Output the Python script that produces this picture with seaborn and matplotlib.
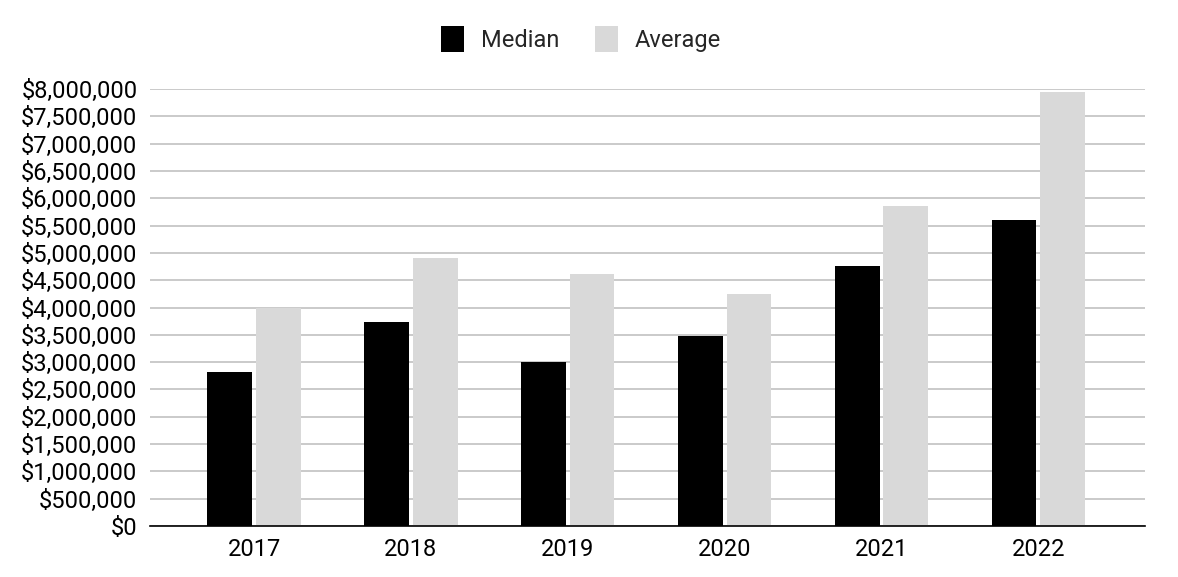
import matplotlib
matplotlib.use("Agg")
import matplotlib.pyplot as plt
import seaborn as sns
import pandas as pd
from matplotlib.ticker import FuncFormatter, MultipleLocator
from matplotlib.patches import Patch

years = ["2017", "2018", "2019", "2020", "2021", "2022"]
median = [2820000, 3740000, 3000000, 3480000, 4760000, 5600000]
average = [3990000, 4910000, 4620000, 4250000, 5860000, 7950000]
series = ["Median", "Average"]
colors = {"Median": "#000000", "Average": "#d9d9d9"}

df = pd.DataFrame({
    "Year": years * 2,
    "Value": median + average,
    "Series": ["Median"] * len(years) + ["Average"] * len(years),
})

sns.set_theme(style="white")
plt.rcParams["font.family"] = ["Roboto", "DejaVu Sans"]

fig = plt.figure(figsize=(11.78, 5.77), dpi=100)
ax = fig.add_axes([150/1178, 51/577, 995/1178, 437/577])

sns.barplot(data=df, x="Year", y="Value", hue="Series", hue_order=series,
            palette=colors, width=0.62, gap=0.08, ax=ax, legend=False,
            saturation=1, linewidth=0)

ax.set_ylim(0, 8000000)
ax.set_xlim(-0.663, 5.68)
ax.yaxis.set_major_locator(MultipleLocator(500000))
ax.yaxis.set_major_formatter(FuncFormatter(lambda v, p: f"${int(v):,}"))
ax.grid(axis="y", color="#c6c6c6", linewidth=1.3)
ax.set_axisbelow(True)
for s in ["top", "right", "left"]:
    ax.spines[s].set_visible(False)
ax.spines["bottom"].set_color("#000000")
ax.spines["bottom"].set_linewidth(1.2)
ax.tick_params(axis="both", length=0, labelsize=17, colors="#000000")
ax.tick_params(axis="y", pad=9)
ax.tick_params(axis="x", pad=9)
ax.set_xlabel("")
ax.set_ylabel("")

handles = [Patch(facecolor=colors[s], edgecolor="none", label=s) for s in series]
fig.legend(handles=handles, loc="center", bbox_to_anchor=(581/1178, 1 - 39/577),
           ncol=2, frameon=False, fontsize=17, handlelength=1.0, handleheight=1.3,
           columnspacing=1.5, handletextpad=0.7)

fig.savefig("out.png", dpi=100)
